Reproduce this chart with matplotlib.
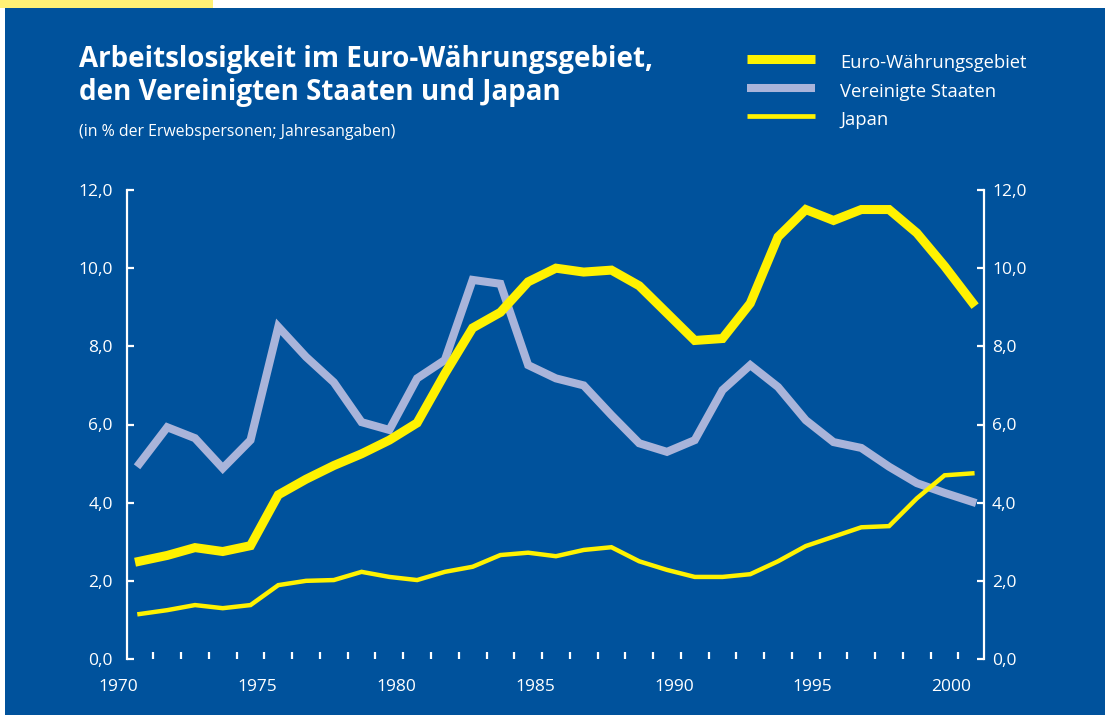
import numpy as np
import matplotlib
matplotlib.use("Agg")
import matplotlib.pyplot as plt
from matplotlib.patches import Rectangle
from matplotlib.lines import Line2D

plt.rcParams['font.family'] = ['Open Sans', 'DejaVu Sans']

# ---------------- data ----------------
years = list(range(1971, 2002))
euro = [2.5, 2.65, 2.85, 2.75, 2.9, 4.2, 4.6, 4.95, 5.25, 5.6,
        6.04, 7.3, 8.47, 8.87, 9.65, 10.0, 9.9, 9.95, 9.55, 8.85,
        8.15, 8.2, 9.1, 10.8, 11.5, 11.22, 11.5, 11.5, 10.9, 10.05,
        9.12]
usa = [5.0, 5.93, 5.65, 4.88, 5.6, 8.5, 7.73, 7.08, 6.06, 5.86,
       7.18, 7.65, 9.7, 9.6, 7.52, 7.18, 7.0, 6.24, 5.52, 5.3,
       5.6, 6.88, 7.52, 6.96, 6.11, 5.55, 5.4, 4.92, 4.5, 4.25,
       4.02]
japan = [1.15, 1.25, 1.38, 1.3, 1.38, 1.89, 2.0, 2.02, 2.23, 2.1,
         2.02, 2.23, 2.36, 2.66, 2.72, 2.63, 2.79, 2.86, 2.5, 2.28,
         2.1, 2.1, 2.17, 2.5, 2.89, 3.13, 3.37, 3.4, 4.11, 4.7,
         4.75]
series_names = ["Euro-Währungsgebiet", "Vereinigte Staaten", "Japan"]
y_ticks = [0, 2, 4, 6, 8, 10, 12]
y_tick_labels = ["0,0", "2,0", "4,0", "6,0", "8,0", "10,0", "12,0"]
year_labels = [1970, 1975, 1980, 1985, 1990, 1995, 2000]

title_lines = ["Arbeitslosigkeit im Euro-Währungsgebiet,",
               "den Vereinigten Staaten und Japan"]
subtitle = "(in % der Erwebspersonen; Jahresangaben)"

# ---------------- style ----------------
W, H = 1105, 715
BLUE = '#00529C'
YELLOW = '#FFF200'
LAVENDER = '#A9B4DA'
TAB = '#FFF176'
WHITE = 'white'

fig = plt.figure(figsize=(W / 100, H / 100), dpi=100)
fig.patch.set_facecolor('white')
fig.add_artist(Rectangle((5 / W, 0), 1 - 5 / W, (H - 8) / H, transform=fig.transFigure,
                         facecolor=BLUE, edgecolor='none', zorder=0))
fig.add_artist(Rectangle((0, (H - 8) / H), 213 / W, 8 / H, transform=fig.transFigure,
                         facecolor=TAB, edgecolor='none', zorder=0))

ax = fig.add_axes([126.7 / W, 1 - 659 / H, (984.3 - 126.7) / W, (659 - 190) / H])
ax.set_facecolor('none')
ax.set_xlim(1970.54, 2001.43)
ax.set_ylim(0, 12)

ax.plot(years, japan, color=YELLOW, lw=3.2, solid_joinstyle='miter', clip_on=False, zorder=3)
ax.plot(years, usa, color=LAVENDER, lw=5.8, solid_joinstyle='miter', clip_on=False, zorder=2)
ax.plot(years, euro, color=YELLOW, lw=6.5, solid_joinstyle='miter', clip_on=False, zorder=4)

for s in ['top', 'bottom', 'right']:
    ax.spines[s].set_visible(False)
ax.spines['left'].set_color(WHITE)
ax.spines['left'].set_linewidth(1.6)

ax.set_yticks(y_ticks)
ax.set_yticklabels(y_tick_labels)
ax.tick_params(axis='y', direction='in', length=5, width=1.6, color=WHITE,
               labelcolor=WHITE, labelsize=12.5, pad=10)

ax.set_xticks([])
ax.set_xticks(np.arange(years[0] + 0.5, years[-1], 1), minor=True)
ax.tick_params(axis='x', which='minor', direction='in', length=5, width=1.6,
               color=WHITE, bottom=True, top=False)

for yl in year_labels:
    ax.text(yl + 0.25, -0.72, str(yl), ha='center', va='center', color=WHITE,
            fontsize=12.5, clip_on=False)

ax2 = ax.twinx()
ax2.set_ylim(0, 12)
ax2.set_facecolor('none')
for s in ['top', 'bottom', 'left']:
    ax2.spines[s].set_visible(False)
ax2.spines['right'].set_color(WHITE)
ax2.spines['right'].set_linewidth(1.6)
ax2.set_yticks(y_ticks)
ax2.set_yticklabels(y_tick_labels)
ax2.tick_params(axis='y', direction='in', length=5, width=1.6, color=WHITE,
                labelcolor=WHITE, labelsize=12.5, pad=5.5)

# titles
fig.text(79 / W, 1 - 67 / H, title_lines[0], ha='left', va='baseline', color=WHITE,
         fontsize=20, fontweight='bold')
fig.text(79 / W, 1 - 100 / H, title_lines[1], ha='left', va='baseline', color=WHITE,
         fontsize=20, fontweight='bold')
fig.text(79 / W, 1 - 136 / H, subtitle, ha='left', va='baseline', color=WHITE,
         fontsize=11.4)

# legend
leg_lines_y = [59, 88, 116]
leg_text_y = [68, 97, 125]
leg_styles = [(YELLOW, 6.5), (LAVENDER, 5.8), (YELLOW, 3.4)]
for name, ly, ty, (c, lw) in zip(series_names, leg_lines_y, leg_text_y, leg_styles):
    fig.add_artist(Line2D([747 / W, 815 / W], [1 - ly / H, 1 - ly / H], transform=fig.transFigure,
                          color=c, lw=lw, solid_capstyle='butt'))
    fig.text(840 / W, 1 - ty / H, name, ha='left', va='baseline', color=WHITE, fontsize=13.2)

fig.savefig('out.png', dpi=100, facecolor=fig.get_facecolor())
